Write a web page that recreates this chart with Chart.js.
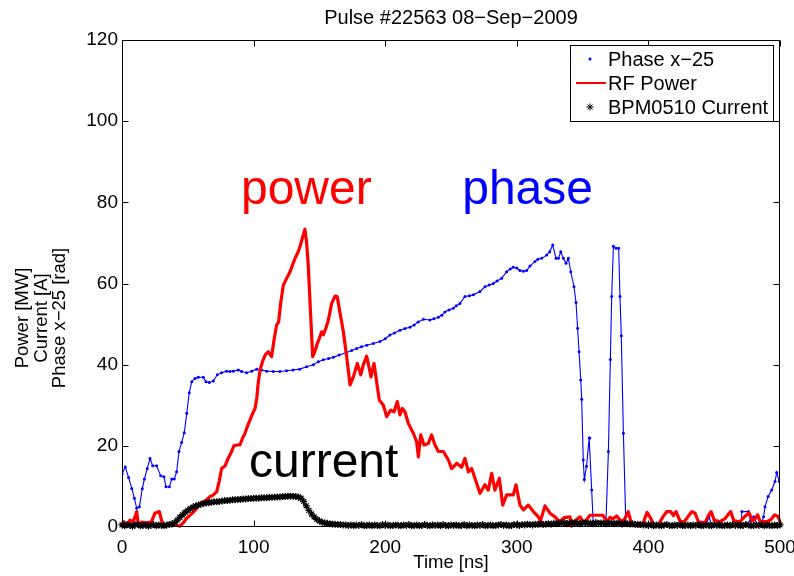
<!DOCTYPE html>
<html>
<head>
<meta charset="utf-8">
<script src="https://cdn.jsdelivr.net/npm/chart.js@4"></script>
<style>
html,body{margin:0;padding:0;background:#fff;}
#c{display:block;}
</style>
</head>
<body>
<canvas id="c" width="794" height="576"></canvas>
<script>
// ---------------- DATA ----------------
const xTickValues = [0, 100, 200, 300, 400, 500];
const yTickValues = [0, 20, 40, 60, 80, 100, 120];

const phaseLabel = 'Phase x\u221225';
const powerLabel = 'RF Power';
const currentLabel = 'BPM0510 Current';
const yTitleLines = ['Power [MW]', 'Current [A]', 'Phase x\u221225 [rad]'];

// Phase x-25 [rad] (off-scale negative values are below the axis)
const phaseTime = [
  0, 2.5, 5, 7.4, 9.4, 11.2, 13.2, 15.4, 17, 19.2,
  21.3, 23.3, 26.3, 29.4, 31.9, 33.4, 36, 37.8, 39.7, 41.5,
  43.3, 45.3, 47.3, 49.2, 51.1, 53, 55.5, 58, 61.8, 63.8,
  66.3, 69.4, 72.4, 75.7, 79.5, 82, 84.6, 88.4, 90.9, 94.7,
  98.5, 102.3, 106.1, 110, 115, 120, 125, 130, 135, 140.3,
  145.4, 149.2, 153, 157, 160.6, 165, 170.7, 174.5, 178.3, 182,
  186, 191, 196, 200, 203.6, 207, 211.2, 215, 218.8, 222,
  225, 229, 234, 237, 240.4, 243, 245.4, 248.5, 251.8, 254,
  256.8, 260.6, 264, 267, 272, 275.8, 279, 282.1, 285, 288.5,
  292.3, 295, 297.3, 300, 302.4, 305, 307.5, 310, 313.8, 316,
  318.9, 322.7, 325, 327.3, 329.8, 331.6, 333.4, 335.4, 337.4, 339.2,
  341, 343.5, 345, 346.2, 347.3, 348.6, 349.3, 350.5, 351.3, 353,
  355, 355.5, 356.9, 358.2, 359, 366, 367.8, 369.6, 371.1, 372.1,
  373.4, 375.4, 377.4, 378.4, 379.4, 381, 382.7, 384, 443, 444,
  446, 448, 449, 470, 471, 476, 477.5, 480, 483, 486,
  487.5, 488.6, 491, 493.7, 496.2, 497.5, 499.5
];
const phaseValue = [
  13.0, 14.8, 12.2, 9.5, 7.1, 4.6, 5.0, 9.4, 11.8, 14.4,
  16.9, 15.1, 15.1, 12.6, 12.4, 9.9, 9.9, 11.8, 11.8, 13.6,
  18.6, 20.8, 23.2, 28.0, 33.1, 35.8, 36.6, 36.9, 36.9, 35.8,
  35.6, 36.0, 37.5, 38.0, 38.4, 38.3, 38.4, 38.7, 38.3, 38.0,
  38.4, 38.9, 38.7, 38.4, 38.3, 38.3, 38.5, 38.7, 38.9, 39.5,
  40.0, 40.7, 41.2, 41.5, 41.8, 42.4, 43.0, 43.5, 44.0, 44.4,
  44.8, 45.2, 45.7, 46.4, 47.3, 47.8, 48.5, 48.9, 49.2, 49.8,
  50.5, 51.2, 51.0, 51.3, 51.7, 52.2, 53.0, 53.5, 53.9, 54.5,
  55.1, 56.8, 57.0, 57.2, 58.0, 59.2, 59.6, 60.0, 60.6, 61.3,
  62.9, 63.6, 64.0, 63.8, 63.2, 63.0, 63.2, 64.3, 65.4, 66.0,
  66.2, 67.0, 67.8, 69.5, 66.2, 66.2, 67.8, 66.2, 65.0, 66.2,
  62.9, 59.2, 55.3, 49.0, 43.2, 36.2, 31.5, 16.5, 11.7, 15.0,
  21.9, 21.9, 9.1, 0.0, -8, -8, 1.7, 18.6, 41.3, 56.8,
  69.2, 68.7, 68.7, 56.8, 47.1, 23.1, 2.5, -8, -8, 0.5,
  2.5, 0.5, -5, -5, 3.8, 3.8, 1.5, 2.5, 0.5, 1.0,
  2.5, 5.0, 7.5, 9.1, 11.2, 13.4, 11.2
];

// RF Power [MW]
const powerTime = [
  0, 1.5, 4, 6, 8.6, 11.2, 12.4, 15, 18.5, 22.3,
  25, 28.4, 30, 31.9, 35, 38, 41, 44, 46.5, 49,
  52, 54, 56.7, 59, 61.8, 64, 66.9, 69, 72, 74,
  75.7, 78.4, 80.5, 83.3, 85, 87.1, 89.6, 91.5, 93.5, 95.5,
  97.3, 99, 101.1, 102.5, 103.6, 104.9, 107, 109, 111.2, 113.7,
  115.5, 117.5, 119, 120.5, 122.6, 125, 127.7, 129.5, 131.5, 133.5,
  135.3, 137.3, 139, 140.3, 141.6, 142.5, 143.4, 144.9, 146.5, 148,
  150, 151.7, 153, 155, 156.8, 159.3, 161.9, 163.5, 165.7, 168.2,
  170.7, 173.3, 175.8, 178.8, 181.4, 183.4, 185.9, 187.9, 189.2, 191.5,
  193.5, 195.5, 198.6, 201.1, 204.2, 206.7, 209.2, 211.2, 213, 215,
  217.6, 221.4, 223.9, 225.2, 227, 229.5, 232.8, 235.3, 237.8, 240.4,
  244.2, 248, 250.5, 254.3, 258.1, 260.6, 263.2, 265.7, 268.2, 272,
  275.8, 278.3, 280.9, 283.4, 286.7, 289.3, 292.3, 297.3, 299.4, 302.4,
  305, 308.7, 312.6, 316.4, 318, 321.4, 325.2, 329, 332.3, 336,
  340.4, 341.6, 344, 348, 351, 355.6, 365.5, 368.3, 371, 373,
  375.9, 379.7, 382, 384.7, 387.3, 393.6, 396, 399, 402, 404,
  408, 411, 414, 417, 419, 421, 424, 427, 430, 433,
  435.5, 438, 443, 445.5, 447.6, 450, 454.4, 458, 460.5, 462.5,
  465, 469.5, 473, 476.5, 479, 481, 483, 485, 489.7, 493,
  496, 498.5, 500
];
const powerValue = [
  0.0, 1.3, 0.2, 1.7, 1.3, 3.8, 0.3, 1.2, 1.0, 1.2,
  3.4, 3.8, 1.7, 0.2, 0.5, 0.3, 0.5, 0.2, 1.0, 2.1,
  3.0, 3.6, 4.6, 5.5, 6.2, 6.6, 7.5, 7.8, 8.7, 11.5,
  14.4, 15.1, 16.8, 18.6, 20.0, 20.2, 20.2, 21.8, 23.1, 25.0,
  26.4, 27.8, 29.2, 32.0, 35.8, 38.7, 41.0, 42.5, 43.2, 42.0,
  46.0, 49.8, 50.5, 55.0, 59.6, 61.2, 62.9, 64.5, 66.2, 67.5,
  69.1, 71.5, 73.4, 70.0, 64.1, 58.0, 51.8, 42.0, 43.2, 44.8,
  46.5, 48.1, 47.4, 49.0, 51.0, 55.1, 56.9, 56.8, 52.7, 48.1,
  42.0, 35.0, 37.0, 40.3, 37.5, 40.0, 42.1, 39.1, 37.0, 40.3,
  35.8, 31.3, 30.0, 27.2, 28.8, 28.4, 30.9, 27.6, 29.2, 28.4,
  25.5, 23.1, 21.0, 17.3, 22.7, 20.2, 20.6, 22.7, 20.2, 18.6,
  18.6, 16.5, 14.4, 15.7, 14.7, 16.9, 13.6, 14.4, 12.0, 8.3,
  10.4, 9.1, 13.2, 9.1, 12.0, 5.4, 7.9, 7.9, 10.4, 5.4,
  4.2, 5.4, 3.8, 2.5, 1.5, 5.2, 3.4, 2.5, 1.3, 2.3,
  2.5, 0.2, 1.5, 2.5, 1.0, 2.9, 2.9, 1.3, 2.4, 2.0,
  2.7, 1.3, 2.0, 3.8, 0.5, 0.2, 1.0, 3.6, 2.0, 0.6,
  0.8, 2.5, 3.8, 3.8, 2.8, 3.8, 1.5, 1.2, 2.5, 3.8,
  3.4, 1.3, 1.0, 2.8, 3.8, 1.7, 1.3, 2.0, 3.0, 3.8,
  1.5, 1.3, 2.5, 3.5, 1.5, 2.0, 3.0, 1.3, 1.3, 1.8,
  3.0, 2.6, 1.3
];

// BPM0510 Current [A], sampled every 2 ns from 0 ns
const currentStart = 0;
const currentStep = 2;
const currentValue = [
  0.5,0.3,0.6,0.4,0.2,0.5,0.6,0.3,0.4,0.5,
  0.2,0.4,0.6,0.3,0.5,0.4,0.3,0.5,
  0.6,0.8,1.1,1.7,2.4,3.0,3.6,4.1,4.5,4.9,
  5.2,5.4,5.6,5.8,5.9,6.0,6.1,6.2,6.2,6.3,
  6.4,6.5,6.5,6.6,6.7,6.7,6.8,6.8,6.9,6.9,
  7.0,7.0,7.1,7.1,7.1,7.2,7.2,7.2,7.3,7.3,
  7.3,7.4,7.4,7.5,7.5,7.6,7.6,7.6,7.5,7.4,
  7.1,6.3,5.2,4.1,3.2,2.5,1.9,1.5,1.2,1.0,
  0.9,0.8,0.7,0.7,0.6,0.6,0.5,0.5,
  0.4,0.5,0.3,0.5,0.4,0.6,0.3,0.4,0.5,0.3,
  0.5,0.4,0.3,0.6,0.4,0.5,0.3,0.4,0.5,0.4,
  0.3,0.5,0.4,0.6,0.3,0.4,0.5,0.3,0.4,0.6,
  0.4,0.3,0.5,0.4,0.5,0.3,0.6,0.4,0.3,0.5,
  0.4,0.5,0.3,0.4,0.6,0.3,0.5,0.4,0.3,0.5,
  0.4,0.6,0.3,0.4,0.5,0.3,0.4,0.5,0.6,0.4,
  0.5,0.3,0.4,0.6,0.5,0.4,0.6,0.5,0.7,0.6,
  0.5,0.7,0.6,0.8,0.6,0.7,0.8,0.7,0.9,
  0.8,1.0,0.9,1.1,0.8,1.0,1.1,0.9,1.0,0.8,
  1.0,1.1,0.9,1.0,0.8,1.1,0.9,1.0,0.9,0.8,
  1.0,0.9,0.8,1.0,0.9,0.7,0.9,0.8,0.7,0.8,
  0.6,0.7,0.6,0.5,
  0.5,0.4,0.6,0.3,0.5,0.4,0.3,0.5,0.6,0.4,
  0.3,0.5,0.4,0.6,0.3,0.4,0.5,0.3,0.5,0.4,
  0.6,0.3,0.4,0.5,0.4,0.3,0.6,0.4,0.5,0.3,
  0.4,0.5,0.3,0.6,0.4,0.5,0.3,0.4,0.6,0.5,
  0.3,0.4,0.5,0.4,0.6,0.3,0.5,0.4,0.3,0.5,
  0.4,0.5
];

// Text annotations placed in data coordinates
const annotations = [
  { text: 'power',   x: 90.4,  y: 79.6, color: '#ff0000' },
  { text: 'phase',   x: 258.5, y: 79.6, color: '#0000ff' },
  { text: 'current', x: 96.5,  y: 12.3, color: '#000000' }
];

// ---------------- CHART ----------------
const FONT = '"Liberation Sans", Arial, Helvetica, sans-serif';

const phaseData = phaseTime.map((t, i) => ({ x: t, y: phaseValue[i] }));
const powerData = powerTime.map((t, i) => ({ x: t, y: powerValue[i] }));
const currentData = currentValue.map((v, i) => ({ x: currentStart + i * currentStep, y: v }));

const matlabFrame = {
  id: 'matlabFrame',
  afterDraw(chart) {
    const ctx = chart.ctx;
    const xs = chart.scales.x, ys = chart.scales.y;
    const a = chart.chartArea;
    const L = Math.round(a.left) + 0.5, R = Math.round(a.right) - 0.5;
    const T = Math.round(a.top) + 0.5, B = Math.round(a.bottom) - 0.5;
    ctx.save();
    ctx.strokeStyle = '#000';
    ctx.lineWidth = 1;
    ctx.beginPath();
    ctx.rect(L, T, R - L, B - T);
    ctx.stroke();
    const tl = 6;
    ctx.beginPath();
    xTickValues.forEach(v => {
      const px = Math.round(xs.getPixelForValue(v)) + 0.5;
      ctx.moveTo(px, B); ctx.lineTo(px, B - tl);
      ctx.moveTo(px, T); ctx.lineTo(px, T + tl);
    });
    yTickValues.forEach(v => {
      const py = Math.round(ys.getPixelForValue(v)) + 0.5;
      ctx.moveTo(L, py); ctx.lineTo(L + tl, py);
      ctx.moveTo(R, py); ctx.lineTo(R - tl, py);
    });
    ctx.stroke();

    // y axis title (three lines, rotated)
    ctx.fillStyle = '#000';
    ctx.font = '18.5px ' + FONT;
    ctx.textAlign = 'center';
    ctx.textBaseline = 'middle';
    const yTitleX = [23, 41.5, 60];
    yTitleLines.forEach((line, i) => {
      ctx.save();
      ctx.translate(yTitleX[i], 318);
      ctx.rotate(-Math.PI / 2);
      ctx.fillText(line, 0, 0);
      ctx.restore();
    });

    // annotations
    ctx.font = '48px ' + FONT;
    ctx.textAlign = 'left';
    ctx.textBaseline = 'alphabetic';
    annotations.forEach(an => {
      ctx.fillStyle = an.color;
      ctx.fillText(an.text, xs.getPixelForValue(an.x), ys.getPixelForValue(an.y));
    });

    // legend box
    const bx = 570.5, by = 45.5, bw = 203, bh = 76;
    ctx.fillStyle = '#fff';
    ctx.fillRect(bx, by, bw, bh);
    ctx.strokeStyle = '#000';
    ctx.lineWidth = 1;
    ctx.strokeRect(bx, by, bw, bh);
    const ds = chart.data.datasets;
    const rows = [59, 83, 107];
    ctx.font = '20px ' + FONT;
    ctx.textBaseline = 'middle';
    ctx.fillStyle = '#0000ff';
    ctx.beginPath(); ctx.arc(590, rows[0], 1.5, 0, Math.PI * 2); ctx.fill();
    ctx.strokeStyle = '#ff0000'; ctx.lineWidth = 2;
    ctx.beginPath(); ctx.moveTo(576, rows[1]); ctx.lineTo(606, rows[1]); ctx.stroke();
    ctx.strokeStyle = '#000'; ctx.lineWidth = 1;
    Chart.helpers.drawPoint(ctx, { pointStyle: 'star', radius: 3.5, rotation: 0, borderWidth: 1 }, 590, rows[2]);
    ctx.fillStyle = '#000';
    ds.forEach((d, i) => ctx.fillText(d.label, 608, rows[i] + 1));
    ctx.restore();
  }
};

new Chart(document.getElementById('c'), {
  type: 'line',
  data: {
    datasets: [
      {
        label: phaseLabel, data: phaseData, order: 2,
        borderColor: '#0000ff', borderWidth: 1.1, tension: 0,
        pointRadius: 1.5, pointBackgroundColor: '#0000ff', pointBorderWidth: 0,
        fill: false, clip: 0
      },
      {
        label: powerLabel, data: powerData, order: 1,
        borderColor: '#ff0000', borderWidth: 3.2, tension: 0,
        pointRadius: 0, fill: false, clip: 2,
        borderJoinStyle: 'round'
      },
      {
        label: currentLabel, data: currentData, order: 0,
        showLine: false, pointStyle: 'star', pointRadius: 3.5,
        borderColor: '#000', pointBorderColor: '#000', pointBorderWidth: 1.2,
        pointBackgroundColor: 'rgba(0,0,0,0)', clip: 4
      }
    ]
  },
  options: {
    responsive: false,
    animation: false,
    events: [],
    devicePixelRatio: 1,
    layout: { padding: { top: 0, right: 14, left: 0, bottom: 0 } },
    plugins: {
      legend: { display: false },
      tooltip: { enabled: false },
      title: {
        display: true,
        text: 'Pulse #22563 08\u2212Sep\u22122009',
        fullSize: false,
        color: '#000',
        font: { family: FONT, size: 20, weight: 'normal' },
        padding: { top: 6, bottom: 10 }
      }
    },
    scales: {
      x: {
        type: 'linear', min: 0, max: 500,
        grid: { display: false, drawTicks: false },
        border: { display: false },
        afterBuildTicks: s => { s.ticks = xTickValues.map(v => ({ value: v })); },
        ticks: { color: '#000', font: { family: FONT, size: 19 }, padding: 9, maxRotation: 0, autoSkip: false },
        title: { display: true, text: 'Time [ns]', color: '#000', font: { family: FONT, size: 18.5 }, padding: { top: 0, bottom: 2 } },
        afterFit: s => { s.height = 49; s.paddingLeft = 0; s.paddingRight = 0; }
      },
      y: {
        type: 'linear', min: 0, max: 120,
        grid: { display: false, drawTicks: false },
        border: { display: false },
        afterBuildTicks: s => { s.ticks = yTickValues.map(v => ({ value: v })); },
        ticks: { color: '#000', font: { family: FONT, size: 19 }, padding: 4, autoSkip: false },
        title: { display: false },
        afterFit: s => { s.width = 122; s.paddingTop = 0; s.paddingBottom = 0; }
      }
    }
  },
  plugins: [matlabFrame]
});
</script>
</body>
</html>
